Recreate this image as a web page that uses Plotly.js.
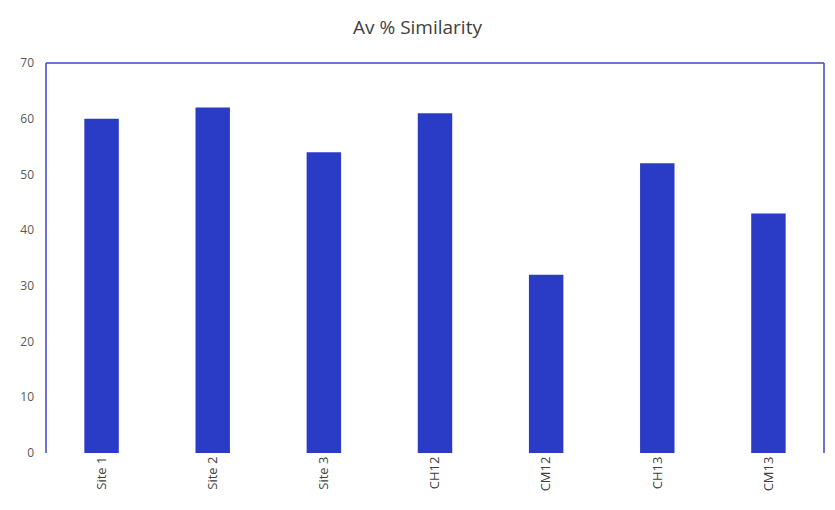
<!DOCTYPE html>
<html>
<head>
<meta charset="utf-8">
<script src="https://cdn.plot.ly/plotly-3.0.1.min.js"></script>
<style>html,body{margin:0;padding:0;background:#fff;}#chart{width:835px;height:510px;}</style>
</head>
<body>
<div id="chart"></div>
<script>
const categories = ["Site 1", "Site 2", "Site 3", "CH12", "CM12", "CH13", "CM13"];
const similarity = [60, 62, 54, 61, 32, 52, 43];
const yTicks = [0, 10, 20, 30, 40, 50, 60, 70];

const barColor = "#2a3cc6";
const borderColor = "#4045c8";

Plotly.newPlot("chart", [{
  type: "bar",
  x: categories,
  y: similarity,
  marker: {color: barColor},
  hoverinfo: "x+y"
}], {
  width: 835,
  height: 510,
  margin: {l: 46, r: 11, t: 63, b: 57},
  paper_bgcolor: "#ffffff",
  plot_bgcolor: "#ffffff",
  bargap: 0.69,
  showlegend: false,
  font: {family: "Open Sans, Noto Sans, sans-serif", color: "#595959"},
  title: {
    text: "Av % Similarity",
    x: 0.5, xanchor: "center",
    y: 0.947, yanchor: "middle",
    font: {size: 19, color: "#404040", family: "Open Sans, Noto Sans, sans-serif"}
  },
  xaxis: {
    type: "category",
    tickangle: -90,
    tickfont: {size: 13, color: "#404040"},
    showline: false,
    showgrid: false,
    zeroline: false,
    ticks: ""
  },
  yaxis: {
    range: [0, 70],
    tickvals: yTicks,
    ticktext: yTicks.map(String),
    tickfont: {size: 12, color: "#595959"},
    showgrid: false,
    zeroline: false,
    showline: false,
    ticks: "",
    ticklabelstandoff: 11
  },
  shapes: [
    {type: "line", xref: "paper", yref: "paper", x0: 0, x1: 0, y0: 0, y1: 1, line: {color: borderColor, width: 1.5}},
    {type: "line", xref: "paper", yref: "paper", x0: 0, x1: 1, y0: 1, y1: 1, line: {color: borderColor, width: 1.5}},
    {type: "line", xref: "paper", yref: "paper", x0: 1, x1: 1, y0: 0, y1: 1, line: {color: borderColor, width: 1.5}}
  ]
}, {displayModeBar: false, staticPlot: true});
</script>
</body>
</html>
